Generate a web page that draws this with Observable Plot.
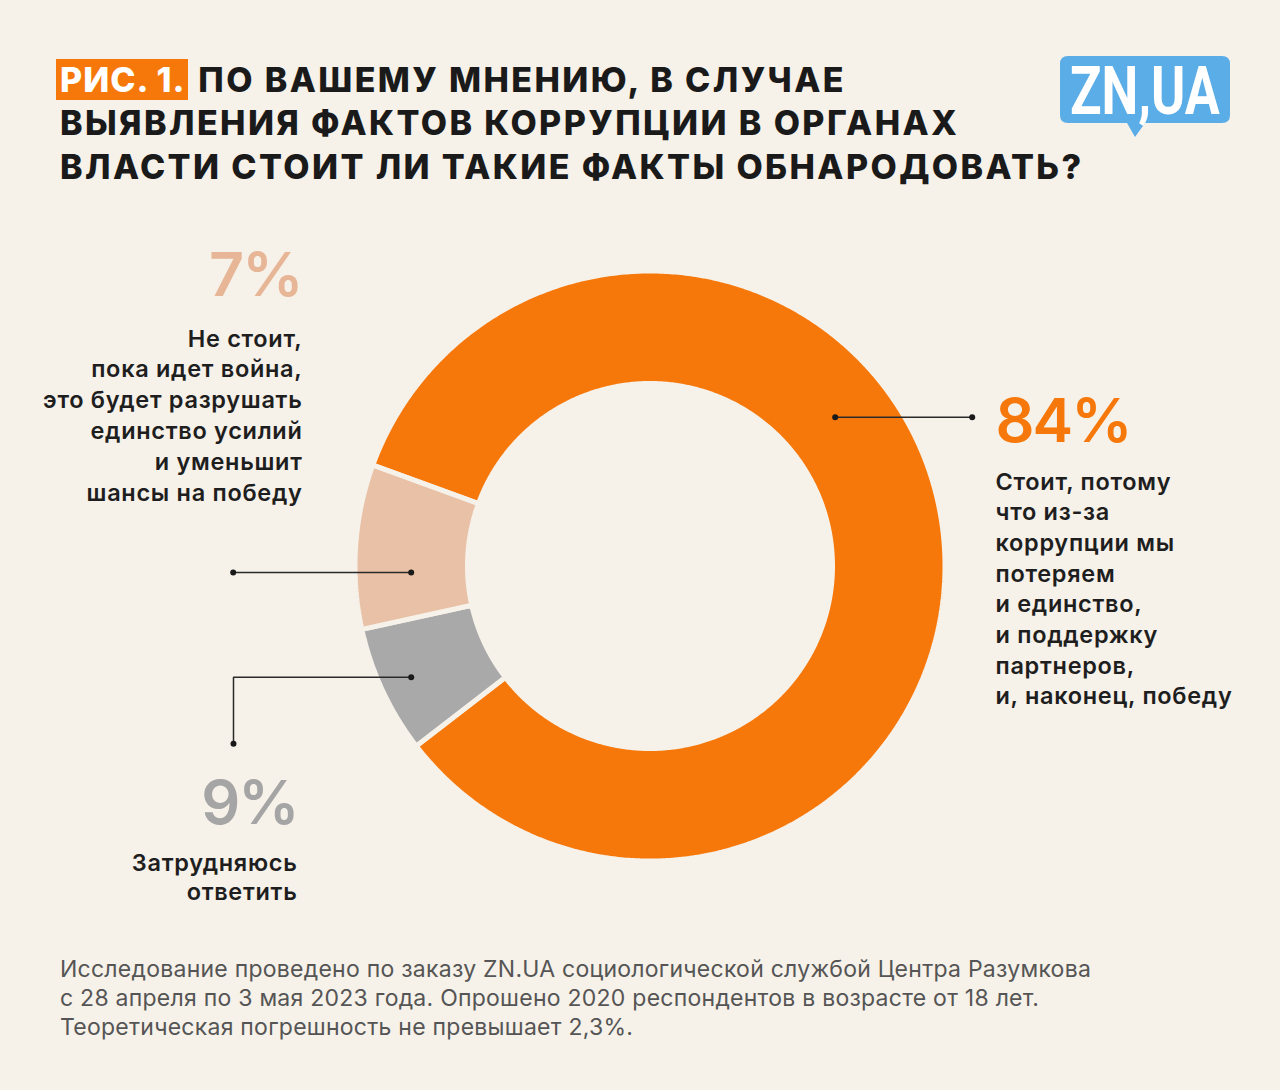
<!DOCTYPE html>
<html>
<head>
<meta charset="utf-8">
<script src="https://cdn.jsdelivr.net/npm/d3@7"></script>
<script src="https://cdn.jsdelivr.net/npm/@observablehq/plot@0.6"></script>
<style>
  html, body { margin: 0; padding: 0; background: #f6f1e9; }
  body { width: 1280px; height: 1090px; position: relative; overflow: hidden;
         font-family: Inter, "Noto Sans", sans-serif; }
  #header { position: relative; height: 225px; }
  #title { position: absolute; left: 60px; top: 58px; margin: 0;
           font-size: 34px; font-weight: 800; line-height: 43.3px; color: #1a1a1a;
           letter-spacing: 2.4px; white-space: nowrap; }
  #title .tag { background: #f7780a; color: #fff; padding: 0 3px 0 4px; margin-left: -4px; letter-spacing: 1px; }
  #logo { position: absolute; left: 1060px; top: 56px; overflow: visible; }
  #chart { position: relative; height: 700px; }
  #footer { position: absolute; left: 60px; top: 955px; font-size: 23px; line-height: 29px;
            color: #555555; white-space: nowrap; letter-spacing: 0.25px; }
  #chart g[font-size="61"] text { letter-spacing: -2px; }
  #chart g[font-size="23.5"] text { letter-spacing: 0.7px; }
</style>
</head>
<body>
<div id="header">
  <h1 id="title"><span class="tag">РИС. 1.</span> ПО ВАШЕМУ МНЕНИЮ, В СЛУЧАЕ<br>ВЫЯВЛЕНИЯ ФАКТОВ КОРРУПЦИИ В ОРГАНАХ<br>ВЛАСТИ СТОИТ ЛИ ТАКИЕ ФАКТЫ ОБНАРОДОВАТЬ?</h1>
  <svg id="logo" width="172" height="84" viewBox="0 0 172 84">
    <path d="M8,0 H162 Q170,0 170,8 V59 Q170,67 162,67 H85 L75,81 L67,67 H8 Q0,67 0,59 V8 Q0,0 8,0 Z" fill="#5aade7"/>
    <g transform="translate(10,58) scale(0.81,1)">
      <text x="0" y="0" font-family="Roboto, Inter, sans-serif" font-weight="700" font-size="66" fill="#ffffff"
            textLength="185" lengthAdjust="spacingAndGlyphs">ZN,UA</text>
    </g>
  </svg>
</div>
<div id="chart"></div>
<div id="footer">Исследование проведено по заказу ZN.UA социологической службой Центра Разумкова<br>с 28 апреля по 3 мая 2023 года. Опрошено 2020 респондентов в возрасте от 18 лет.<br>Теоретическая погрешность не превышает 2,3%.</div>

<script>
// ---------- DATA ----------
// slices in clockwise drawing order, starting from the orange slice
const sliceNames  = ["Стоит", "Затрудняюсь ответить", "Не стоит"];
const sliceValues = [84, 7, 9];
const sliceColors = ["#f7780a", "#a9a9a9", "#e8c1a6"];

// printed annotation texts (as they appear in the picture)
const pctLabels = ["84%", "7%", "9%"];
const pctColors = ["#f7780a", "#e6b697", "#a5a5a5"];
const descriptions = [
  "Стоит, потому\nчто из-за\nкоррупции мы\nпотеряем\nи единство,\nи поддержку\nпартнеров,\nи, наконец, победу",
  "Не стоит,\nпока идет война,\nэто будет разрушать\nединство усилий\nи уменьшит\nшансы на победу",
  "Затрудняюсь\nответить"
];

// ---------- LAYOUT (page pixel space) ----------
const bg = "#f6f1e9";
const top0 = 225, H = 700, W = 1280;
const cx = 649.5, cy = 565.5;
const gap = 5;
const R = 292.5 + gap / 2, r = 185 - gap / 2;
const startAngle = -70 * Math.PI / 180;

const pctFS = 61, descFS = 23.5;
const pctPos = [
  {x: 995, y: 441.7, anchor: "start"},
  {x: 301, y: 295,   anchor: "end"},
  {x: 297, y: 823,   anchor: "end"}
];
// y = first baseline, lh = line spacing in px
const descPos = [
  {x: 995, y: 489, anchor: "start", lh: 30.7},
  {x: 302, y: 346, anchor: "end",   lh: 31},
  {x: 297, y: 870, anchor: "end",   lh: 30}
];
const leaderPaths = [
  [[834.7, 416.7], [971.7, 416.7]],
  [[410.7, 572], [232.7, 572]],
  [[410.7, 676.7], [233, 676.7], [233, 743.3]]
];

// ---------- BUILD ----------
const slices = sliceNames.map((name, i) => ({name, value: sliceValues[i], color: sliceColors[i]}));
const arcs = d3.pie().sort(null).value(d => d.value)
  .startAngle(startAngle).endAngle(startAngle + 2 * Math.PI)(slices);

const ringPts = arcs.flatMap(a => {
  const n = Math.max(4, Math.ceil((a.endAngle - a.startAngle) / (Math.PI / 360)));
  const ts = d3.range(n + 1).map(i => a.startAngle + (a.endAngle - a.startAngle) * i / n);
  const outer = ts.map(t => [R, t]);
  const inner = ts.slice().reverse().map(t => [r, t]);
  return [...outer, ...inner].map(([rad, t]) => ({
    name: a.data.name, color: a.data.color,
    x: cx + rad * Math.sin(t), y: cy - rad * Math.cos(t)
  }));
});

const leaderPts = leaderPaths.flatMap((p, i) => p.map(([x, y]) => ({id: i, x, y})));
const leaderEnds = leaderPaths.flatMap((p, i) => [p[0], p[p.length - 1]].map(([x, y]) => ({id: i, x, y})));

const pctData = pctLabels.map((t, i) => ({text: t, color: pctColors[i], ...pctPos[i],
  yTop: pctPos[i].y - 0.71 * pctFS}));
const descData = descriptions.map((t, i) => {
  const lhEm = descPos[i].lh / descFS;
  return {text: t, ...descPos[i], lhEm, yTop: descPos[i].y - 0.71 * lhEm * descFS};
});

const marks = [
  Plot.line(ringPts, {x: "x", y: "y", z: "name", fill: "color", stroke: bg, strokeWidth: gap,
    curve: "linear-closed", strokeLinejoin: "miter"}),
  Plot.line(leaderPts, {x: "x", y: "y", z: "id", stroke: "#2a2a2a", strokeWidth: 1.5, curve: "linear"}),
  Plot.dot(leaderEnds, {x: "x", y: "y", r: 3, fill: "#1a1a1a", stroke: "none"})
];
pctData.forEach(d => marks.push(Plot.text([d], {x: "x", y: "yTop", text: "text", fill: d.color,
  fontSize: pctFS, fontWeight: 600, textAnchor: d.anchor, lineAnchor: "top",
  fontFamily: "Inter, 'Noto Sans', sans-serif"})));
descData.forEach(d => marks.push(Plot.text([d], {x: "x", y: "yTop", text: "text", fill: "#1e1e1e",
  fontSize: descFS, fontWeight: 600, textAnchor: d.anchor, lineAnchor: "top", lineHeight: d.lhEm,
  fontFamily: "Inter, 'Noto Sans', sans-serif"})));

const chart = Plot.plot({
  width: W, height: H,
  marginTop: 0, marginRight: 0, marginBottom: 0, marginLeft: 0,
  x: {domain: [0, W], range: [0, W], axis: null},
  y: {domain: [top0, top0 + H], range: [0, H], axis: null},
  color: {type: "identity"},
  style: {background: "transparent", overflow: "visible"},
  marks
});
document.getElementById("chart").appendChild(chart);
</script>
</body>
</html>
